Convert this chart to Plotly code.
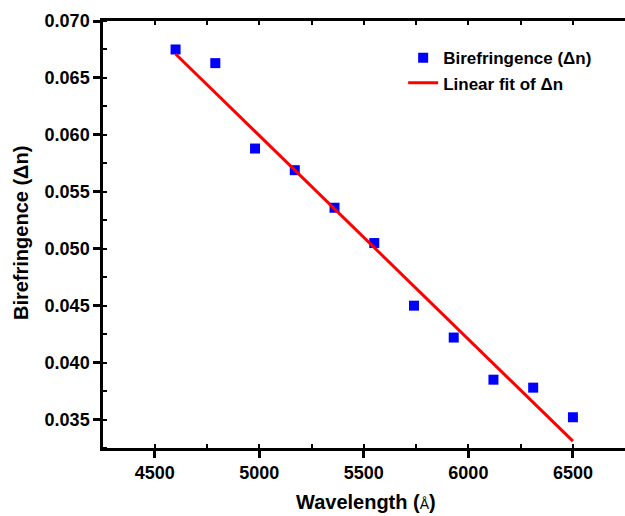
import plotly.graph_objects as go

# Data
wavelength = [4600, 4790, 4980, 5170, 5360, 5550, 5740, 5930, 6120, 6310, 6500]
birefringence = [0.0675, 0.0663, 0.0588, 0.0569, 0.0536, 0.0505, 0.0450, 0.0422, 0.0385, 0.0378, 0.0352]
fit_x = [4600, 6500]
fit_y = [0.0671, 0.0331]

FONT = "Liberation Sans, Arial, sans-serif"

fig = go.Figure()
fig.add_trace(go.Scatter(
    x=wavelength, y=birefringence, mode="markers",
    name="Birefringence (Δn)",
    marker=dict(symbol="square", size=10, color="#0000FF"),
))
fig.add_trace(go.Scatter(
    x=fit_x, y=fit_y, mode="lines",
    name="Linear fit of Δn",
    line=dict(color="#FF0000", width=3),
))
# invisible trace to anchor the top mirror axis
fig.add_trace(go.Scatter(
    x=fit_x, y=fit_y, mode="lines", xaxis="x2", yaxis="y",
    line=dict(width=0), opacity=0, showlegend=False, hoverinfo="skip",
))

xr = [4253, 6749]
yr = [0.0325, 0.0700]

fig.update_layout(
    width=625, height=516,
    margin=dict(l=103, r=0, t=21, b=68),
    paper_bgcolor="white", plot_bgcolor="white",
    font=dict(family=FONT, color="black"),
    showlegend=True,
    legend=dict(
        x=0.575, y=0.955, xanchor="left", yanchor="top",
        bgcolor="rgba(0,0,0,0)",
        font=dict(family=FONT, size=17, color="black", weight="bold"),
        tracegroupgap=0,
    ),
    xaxis=dict(
        range=xr, showgrid=False, zeroline=False,
        showline=True, linecolor="black", linewidth=2.5,
        ticks="outside", ticklen=7, tickwidth=2.5, tickcolor="black",
        tick0=4500, dtick=500,
        tickfont=dict(family=FONT, size=18, color="black", weight="bold"),
        minor=dict(ticks="inside", ticklen=4, tickwidth=2, tickcolor="black", dtick=250, tick0=4250),
    ),
    xaxis2=dict(
        range=xr, overlaying="x", side="top", showgrid=False, zeroline=False,
        showline=True, linecolor="black", linewidth=2.5,
        ticks="inside", ticklen=4, tickwidth=2, tickcolor="black",
        tick0=4500, dtick=500, showticklabels=False,
        minor=dict(ticks="inside", ticklen=4, tickwidth=2, tickcolor="black", dtick=250, tick0=4250),
    ),
    yaxis=dict(
        range=yr, showgrid=False, zeroline=False,
        showline=True, linecolor="black", linewidth=2.5,
        ticks="outside", ticklen=7, tickwidth=2.5, tickcolor="black",
        tick0=0.035, dtick=0.005, tickformat=".3f",
        tickfont=dict(family=FONT, size=18, color="black", weight="bold"),
        minor=dict(ticks="inside", ticklen=4, tickwidth=2, tickcolor="black", dtick=0.0025, tick0=0.0325),
    ),
    annotations=[
        dict(text="<b>Wavelength (</b><span style='font-size:14px'>Å</span><b>)</b>",
             xref="paper", yref="paper", x=0.504, y=-0.126,
             xanchor="center", yanchor="middle", showarrow=False,
             font=dict(family=FONT, size=20, color="black")),
        dict(text="<b>Birefringence (Δn)</b>",
             xref="paper", yref="paper", x=-0.157, y=0.5035, textangle=-90,
             xanchor="center", yanchor="middle", showarrow=False,
             font=dict(family=FONT, size=20, color="black")),
    ],
)

fig.write_html("out.html")
